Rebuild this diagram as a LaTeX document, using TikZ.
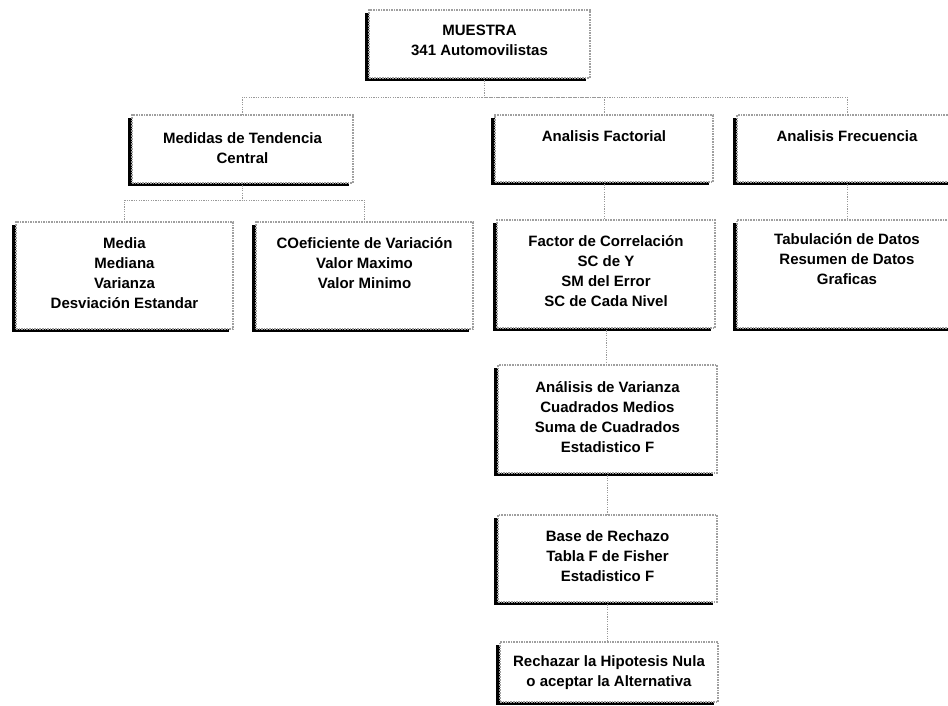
\documentclass[tikz,border=0pt]{standalone}
\usepackage{fontspec}
\setmainfont{Liberation Sans}
\usetikzlibrary{shadows}
\tikzset{
  boxst/.style={draw=gray!75, dash pattern=on 1.6pt off 1pt, line width=1.1pt, fill=white,
    inner sep=0pt, outer sep=0pt,
    general shadow={fill=black, shadow xshift=-4.5pt, shadow yshift=-3pt}},
  txt/.style={font=\bfseries\fontsize{15}{20}\selectfont, align=center, inner sep=0pt, anchor=north},
  conn/.style={draw=gray!80, line width=0.8pt, dash pattern=on 1.2pt off 1.2pt}
}
\begin{document}
\begin{tikzpicture}[x=1pt,y=-1pt]
\useasboundingbox (0,0) rectangle (948,705);
\clip (0,0) rectangle (948,705);
% boxes
\node[boxst, minimum width=221pt, minimum height=68pt] (muestra) at (479.5,44) {};
\node[boxst, minimum width=221pt, minimum height=68pt] (medidas) at (242.5,149) {};
\node[boxst, minimum width=218pt, minimum height=67pt] (factorial) at (604,148.5) {};
\node[boxst, minimum width=220pt, minimum height=67pt] (frecuencia) at (847,148.5) {};
\node[boxst, minimum width=217pt, minimum height=107pt] (media) at (124.5,275.5) {};
\node[boxst, minimum width=217pt, minimum height=107pt] (coef) at (364.5,275.5) {};
\node[boxst, minimum width=218pt, minimum height=108pt] (factor) at (606,274) {};
\node[boxst, minimum width=220pt, minimum height=108pt] (tabul) at (847,274) {};
\node[boxst, minimum width=219pt, minimum height=108pt] (varianza) at (607.5,419) {};
\node[boxst, minimum width=219pt, minimum height=87pt] (base) at (607.5,558.5) {};
\node[boxst, minimum width=218pt, minimum height=60pt] (rechazar) at (609,672) {};
% texts
\node[txt] (muestra-t) at ([yshift=-15pt]muestra.north) {MUESTRA\\341 Automovilistas};
\node[txt] (medidas-t) at ([yshift=-17pt]medidas.north) {Medidas de Tendencia\\Central};
\node[txt] (factorial-t) at ([yshift=-15pt]factorial.north) {Analisis Factorial};
\node[txt] (frecuencia-t) at ([yshift=-15pt]frecuencia.north) {Analisis Frecuencia};
\node[txt] (media-t) at ([yshift=-15pt]media.north) {Media\\Mediana\\Varianza\\Desviación Estandar};
\node[txt] (coef-t) at ([yshift=-15pt]coef.north) {COeficiente de Variación\\Valor Maximo\\Valor Minimo};
\node[txt] (factor-t) at ([yshift=-15pt]factor.north) {Factor de Correlación\\SC de Y\\SM del Error\\SC de Cada Nivel};
\node[txt] (tabul-t) at ([yshift=-13pt]tabul.north) {Tabulación de Datos\\Resumen de Datos\\Graficas};
\node[txt] (varianza-t) at ([yshift=-16pt]varianza.north) {Análisis de Varianza\\Cuadrados Medios\\Suma de Cuadrados\\Estadistico F};
\node[txt] (base-t) at ([yshift=-15pt]base.north) {Base de Rechazo\\Tabla F de Fisher\\Estadistico F};
\node[txt] (rechazar-t) at ([yshift=-13pt]rechazar.north) {Rechazar la Hipotesis Nula\\o aceptar la Alternativa};
% connectors
\coordinate (bus1) at (484,97);
\coordinate (bus2) at (242.5,200);
\draw[conn] ([xshift=4.5pt]muestra.south) -- (bus1);
\draw[conn] (medidas.north) |- (bus1);
\draw[conn] (factorial.north) |- (bus1);
\draw[conn] (frecuencia.north) |- (bus1);
\draw[conn] (medidas.south) -- (bus2);
\draw[conn] (media.north) |- (bus2);
\draw[conn] (coef.north) |- (bus2);
\draw[conn] (factorial.south) -- (factorial.south |- factor.north);
\draw[conn] (frecuencia.south) -- (tabul.north);
\draw[conn] (factor.south) -- (factor.south |- varianza.north);
\draw[conn] (varianza.south) -- (base.north);
\draw[conn] (base.south) -- (base.south |- rechazar.north);
\end{tikzpicture}
\end{document}
